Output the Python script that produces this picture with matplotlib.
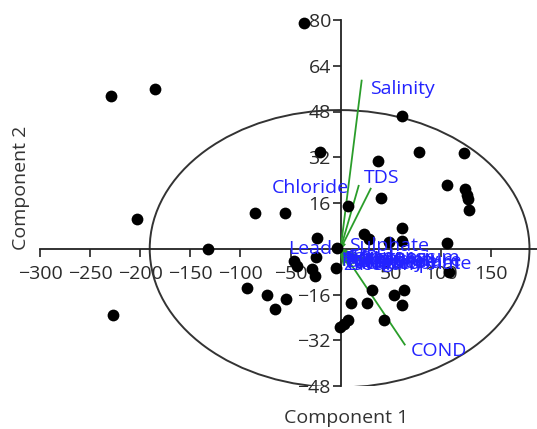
import numpy as np
import matplotlib
matplotlib.use("Agg")
import matplotlib.pyplot as plt
from matplotlib.patches import Ellipse
from matplotlib.ticker import FixedLocator

plt.rcParams['font.family'] = ['Open Sans', 'DejaVu Sans']

# PCA scores (component 1, component 2)
score_x = [-229, -185, -203, -227, -132, -37,
           -85, -55, -24, -47, -44, -25, -29, -26, -5, -4,
           -93, -73, -65, -54,
           10, 23, 61, 61, 106, 108, 31, 26, 53, 63, 61, 43, 7, 3, -1,
           61, 78, 123, 37, 106, 124, 126, 127, 128, 40, 7, 28, 48, -21]
score_y = [53.5, 56, 10.5, -23, 0, 79,
           12.5, 12.5, 3.8, -4.2, -5.9, -2.8, -7, -9.7, -6.6, 0.3,
           -13.6, -16.3, -20.9, -17.4,
           -18.8, 5.2, 7.3, 2.8, 2.1, -8, -14.3, -19, -16, -14.3, -19.5, -25, -25, -26.4, -27.5,
           46.3, 34, 33.4, 30.6, 22.3, 20.9, 18.8, 17.4, 13.6, 17.7, 15, 3.5, 2.4, 34]

# loadings (scaled to score units)
var_names = ['Salinity', 'Chloride', 'TDS', 'COND', 'Lead', 'Sulphate',
             'pH', 'Temperature', 'Turbidity', 'DO', 'BOD', 'Nitrate', 'Hardness',
             'Calcium', 'Magnesium', 'Alkalinity', 'Iron', 'Fluoride', 'Zinc',
             'Copper', 'Sodium', 'Potassium', 'Phosphate']
load_x = [21, 18, 30, 64, -3, 4,
          1, 2, 3, 4, 5, 7, 9, 11, 13, 16, 19, 22, 3, 6, 10, 24, 33]
load_y = [58.8, 22, 21, -33.5, 0.5, 1.5,
          -3, -4.2, -5, -3.5, -4.6, -5.4, -3.2, -4, -5, -4.4, -3.6, -4.8, -5.6, -2.8, -5.8, -3.4, -5.2]

# label offsets (points) and alignment for the named arrows
label_off = {'Salinity': (6, -6, 'left'), 'Chloride': (-7, -1.5, 'right'),
             'TDS': (-5, 8, 'left'), 'COND': (4, -5, 'left'),
             'Lead': (-4, -1, 'right'), 'Sulphate': (3, -1, 'left')}

fig = plt.figure(figsize=(5.37, 4.29), dpi=100)
ax = fig.add_axes([40 / 537, 43 / 429, 497 / 537, 366 / 429])

ax.set_xlim(-300, 196)
ax.set_ylim(-48, 80)

for s in ['top', 'right']:
    ax.spines[s].set_visible(False)
ax.spines['left'].set_position(('data', 0))
ax.spines['bottom'].set_position(('data', 0))
for s in ['left', 'bottom']:
    ax.spines[s].set_linewidth(1.3)
    ax.spines[s].set_color('#222222')

ax.xaxis.set_major_locator(FixedLocator([-300, -250, -200, -150, -100, -50, 50, 100, 150]))
ax.yaxis.set_major_locator(FixedLocator([-48, -32, -16, 16, 32, 48, 64, 80]))
ax.tick_params(axis='both', direction='out', length=6, width=1.2, color='#222222',
               labelsize=14, labelcolor='#2b2b2b')
ax.tick_params(axis='x', pad=6)
ax.tick_params(axis='y', pad=1)

ax.add_patch(Ellipse((-1, 0), 379, 97, fill=False, edgecolor='#333333', lw=1.4, zorder=2))

for name, lx, ly in zip(var_names, load_x, load_y):
    ax.plot([0, lx], [0, ly], color='#2a9d2a', lw=1.3, zorder=3)

ax.scatter(score_x, score_y, s=72, color='black', zorder=4, clip_on=False, linewidths=0)

for name, lx, ly in zip(var_names, load_x, load_y):
    dx, dy, ha = label_off.get(name, (0, 0, 'left'))
    ax.annotate(name, xy=(lx, ly), xytext=(dx, dy), textcoords='offset points',
                ha=ha, va='center', color='#2323ff', fontsize=14, zorder=5)

fig.text(346 / 537, 1 - 418 / 429, 'Component 1', ha='center', va='center',
         fontsize=14, color='#333333')
fig.text(21 / 537, 1 - 188 / 429, 'Component 2', ha='center', va='center',
         rotation=90, fontsize=14, color='#333333')

fig.savefig('out.png', dpi=100)
